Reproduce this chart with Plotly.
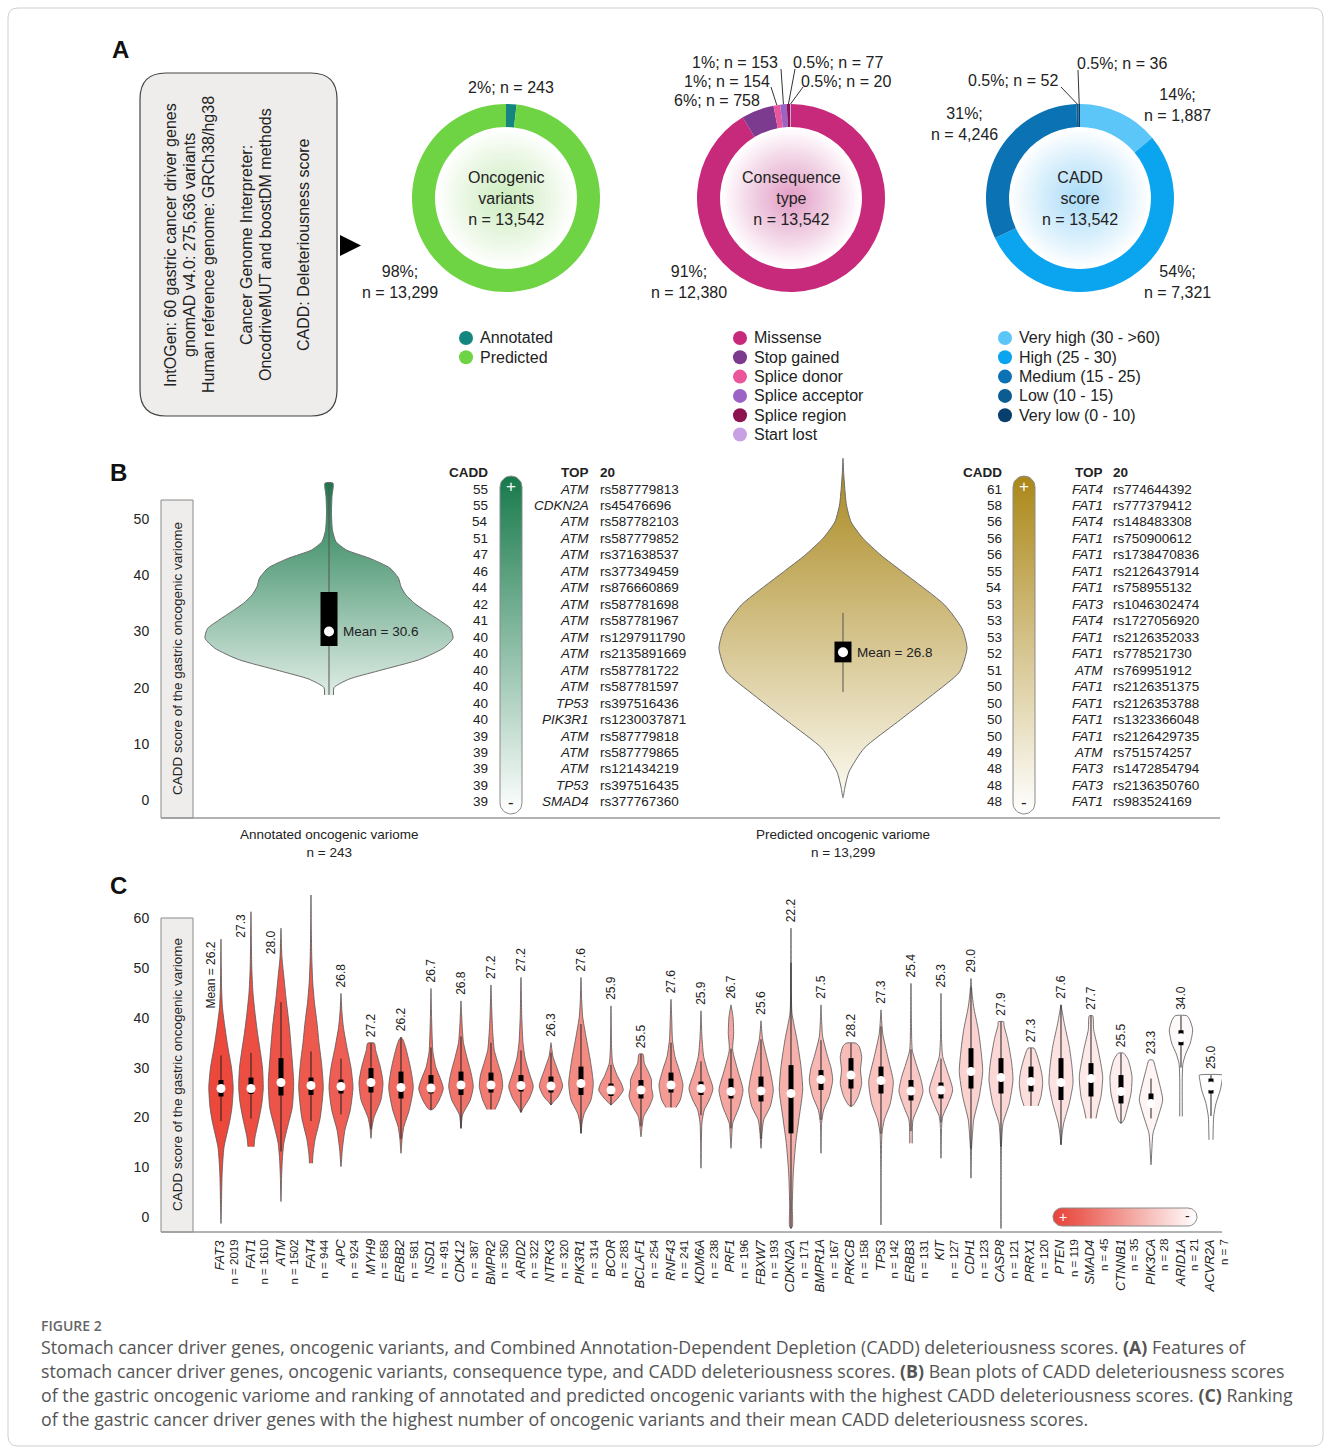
import numpy as np
import plotly.graph_objects as go

W, H = 1331, 1450
FONT = "Liberation Sans, Arial, Helvetica, sans-serif"
CAPFONT = "Open Sans, Liberation Sans, sans-serif"
TXT = "#222222"

# ---------------- Panel A data ----------------
onco_labels = ["Annotated", "Predicted"]
onco_values = [243, 13299]
onco_pct = ["2%", "98%"]
onco_colors = ["#14867f", "#6fd444"]

cons_labels = ["Missense", "Stop gained", "Splice donor", "Splice acceptor", "Splice region", "Start lost"]
cons_values = [12380, 758, 154, 153, 77, 20]
cons_pct = ["91%", "6%", "1%", "1%", "0.5%", "0.5%"]
cons_colors = ["#c72a7b", "#7d3b90", "#ea559b", "#9b63c5", "#8c1350", "#c7a1e3"]

cadd_labels = ["Very high (30 - >60)", "High (25 - 30)", "Medium (15 - 25)", "Low (10 - 15)", "Very low (0 - 10)"]
cadd_values = [1887, 7321, 4246, 52, 36]
cadd_pct = ["14%", "54%", "31%", "0.5%", "0.5%"]
cadd_colors = ["#5bc6f7", "#0ba5ef", "#0b72b4", "#0a5c92", "#083f6c"]

box_lines = ["IntOGen: 60 gastric cancer driver genes", "gnomAD v4.0: 275,636 variants",
             "Human reference genome: GRCh38/hg38", "Cancer Genome Interpreter:",
             "OncodriveMUT and boostDM methods", "CADD: Deleteriousness score"]

# ---------------- Panel B data ----------------
bean_groups = ["Annotated oncogenic variome", "Predicted oncogenic variome"]
bean_n = [243, 13299]
bean_mean = [30.6, 26.8]
bean_median = [30.0, 26.3]
bean_q1 = [27.4, 24.5]
bean_q3 = [37.0, 28.2]
bean_wlo = [18.7, 19.2]
bean_whi = [56.4, 33.3]
ann_bean_v = [18.7, 20.0, 21.5, 23.0, 25.0, 27.0, 28.8, 30.5, 32.0, 33.6, 35.0, 36.5, 38.0, 39.5,
              41.3, 43.0, 44.5, 46.0, 48.0, 51.0, 54.0, 56.4]
ann_bean_d = [0.037, 0.04, 0.16, 0.40, 0.73, 0.92, 1.0, 0.98, 0.89, 0.78, 0.69, 0.62, 0.58, 0.56,
              0.49, 0.33, 0.14, 0.056, 0.028, 0.02, 0.024, 0.032]
pred_bean_v = [0.4, 2.1, 5.0, 9.2, 13.9, 18.7, 22.8, 27.0, 30.5, 34.7, 40.6, 43.5, 46.6, 49.5,
               52.5, 55.5, 58.0, 60.8]
pred_bean_d = [0.0, 0.014, 0.048, 0.17, 0.44, 0.72, 0.94, 1.0, 0.96, 0.82, 0.48, 0.31, 0.16, 0.065,
               0.028, 0.014, 0.006, 0.0]

ann_top_cadd = [55, 55, 54, 51, 47, 46, 44, 42, 41, 40, 40, 40, 40, 40, 40, 39, 39, 39, 39, 39]
ann_top_gene = ["ATM", "CDKN2A", "ATM", "ATM", "ATM", "ATM", "ATM", "ATM", "ATM", "ATM", "ATM", "ATM",
                "ATM", "TP53", "PIK3R1", "ATM", "ATM", "ATM", "TP53", "SMAD4"]
ann_top_rs = ["rs587779813", "rs45476696", "rs587782103", "rs587779852", "rs371638537", "rs377349459",
              "rs876660869", "rs587781698", "rs587781967", "rs1297911790", "rs2135891669", "rs587781722",
              "rs587781597", "rs397516436", "rs1230037871", "rs587779818", "rs587779865", "rs121434219",
              "rs397516435", "rs377767360"]
pred_top_cadd = [61, 58, 56, 56, 56, 55, 54, 53, 53, 53, 52, 51, 50, 50, 50, 50, 49, 48, 48, 48]
pred_top_gene = ["FAT4", "FAT1", "FAT4", "FAT1", "FAT1", "FAT1", "FAT1", "FAT3", "FAT4", "FAT1", "FAT1",
                 "ATM", "FAT1", "FAT1", "FAT1", "FAT1", "ATM", "FAT3", "FAT3", "FAT1"]
pred_top_rs = ["rs774644392", "rs777379412", "rs148483308", "rs750900612", "rs1738470836", "rs2126437914",
               "rs758955132", "rs1046302474", "rs1727056920", "rs2126352033", "rs778521730", "rs769951912",
               "rs2126351375", "rs2126353788", "rs1323366048", "rs2126429735", "rs751574257", "rs1472854794",
               "rs2136350760", "rs983524169"]

# ---------------- Panel C data ----------------
c_genes = ["FAT3", "FAT1", "ATM", "FAT4", "APC", "MYH9", "ERBB2", "NSD1", "CDK12", "BMPR2", "ARID2",
           "NTRK3", "PIK3R1", "BCOR", "BCLAF1", "RNF43", "KDM6A", "PRF1", "FBXW7", "CDKN2A", "BMPR1A",
           "PRKCB", "TP53", "ERBB3", "KIT", "CDH1", "CASP8", "PRRX1", "PTEN", "SMAD4", "CTNNB1",
           "PIK3CA", "ARID1A", "ACVR2A"]
c_n = [2019, 1610, 1502, 944, 924, 858, 581, 491, 387, 350, 322, 320, 314, 283, 254, 241, 238, 196,
       193, 171, 167, 158, 142, 131, 127, 123, 121, 120, 119, 45, 35, 28, 21, 7]
c_mean = [26.2, 27.3, 28.0, 26.7, 26.8, 27.2, 26.2, 26.7, 26.8, 27.2, 27.2, 26.3, 27.6, 25.9, 25.5,
          27.6, 25.9, 26.7, 25.6, 22.2, 27.5, 28.2, 27.3, 25.4, 25.3, 29.0, 27.9, 27.3, 27.6, 27.7,
          25.5, 23.3, 34.0, 25.0]
c_q1 = [24.2, 24.7, 24.4, 24.5, 24.8, 25.0, 23.8, 24.8, 24.5, 25.0, 25.2, 25.0, 24.5, 24.3, 23.8,
        25.0, 24.5, 23.8, 23.2, 16.8, 25.5, 25.8, 24.8, 23.4, 23.8, 25.8, 24.8, 25.2, 23.5, 24.2,
        22.8, 22.8, 34.5, 24.8]
c_q3 = [27.5, 28.0, 31.9, 28.0, 27.6, 29.9, 29.2, 28.5, 29.2, 29.0, 28.5, 28.2, 30.2, 26.8, 27.5,
        29.0, 27.2, 27.8, 28.2, 30.5, 29.5, 31.9, 30.2, 27.5, 27.0, 33.9, 31.9, 30.2, 31.9, 30.9,
        28.5, 24.8, 37.5, 27.8]
c_median = [25.8, 25.8, 27.0, 26.4, 26.2, 27.0, 26.0, 25.9, 26.5, 26.5, 26.4, 26.3, 26.8, 25.5, 25.5,
            26.5, 25.8, 25.2, 25.3, 24.8, 27.6, 28.5, 27.4, 25.3, 25.5, 29.2, 28.0, 27.2, 27.0, 27.8,
            25.2, 22.8, 36.0, 26.3]
# violin outlines: CADD value knots and relative density at each knot
c_shape_v = [
    [-1.3, 3, 9, 14, 19, 22, 26, 30, 34, 38, 42, 46, 50, 55.8],
    [14.1, 16, 20, 23, 26, 30, 33, 37, 41, 45, 50, 55, 61.3],
    [3.1, 8, 12, 15, 18, 22, 27, 32, 38, 44, 48, 52, 58],
    [10.8, 12.5, 15.5, 20, 26, 31, 35, 39, 43, 47, 52, 58, 64.7],
    [10.1, 13.5, 17.5, 21.5, 26, 30, 34, 38, 41, 44.9],
    [15.8, 18, 20, 23.5, 27, 30, 33.5, 34.9],
    [12.8, 15.5, 18, 21.5, 26, 30, 34, 35.6, 36.1],
    [21.5, 21.8, 23.5, 25.8, 28, 30, 33, 36, 40, 45.9],
    [17.8, 20.5, 23.5, 26.2, 29, 32, 35, 38, 43.4],
    [21.6, 23.5, 26.2, 28.5, 30.2, 33.5, 38, 42, 46.6],
    [21, 21.8, 23.8, 26.2, 28.9, 32, 35, 40, 44, 48.1],
    [22.5, 23, 24.2, 26.3, 29.5, 32.2, 33.5, 35],
    [16.8, 18.8, 20.8, 23.5, 26.8, 31.5, 36.2, 40.2, 44, 48.1],
    [22.5, 22.8, 23.8, 25.5, 27, 28.2, 30.9, 34, 38, 42.4],
    [16.1, 18, 20.2, 22.2, 24.2, 26, 27.5, 29.2, 30.9, 32.7],
    [22, 23.5, 26.5, 29.5, 32.2, 35.6, 40, 43.7],
    [9.8, 15, 19, 21.5, 23.5, 25.8, 29.2, 32.2, 36, 41.4],
    [13.8, 16.5, 18.8, 22.2, 25.5, 29.5, 33.5, 36.9, 40.2, 42.6],
    [13.8, 16.8, 19.5, 22.2, 25.5, 28.5, 30.9, 35.6, 39.4],
    [-2.3, -1.8, 2, 8.8, 14.8, 20.2, 25.5, 30.2, 35.6, 40.9, 46, 58],
    [12.8, 18.8, 21.5, 24.2, 27.5, 30, 32.2, 36.2, 40, 42.6],
    [22.2, 22.5, 24.2, 26.8, 29.5, 32.2, 34.2, 34.9],
    [-1.6, 10, 16.8, 19.5, 22.8, 27.2, 32.2, 36.9, 41.6],
    [14.8, 19.5, 22.2, 25.2, 28, 30.2, 33.5, 38, 46.9],
    [11.8, 18, 20.2, 22.8, 25.5, 29.5, 32.2, 36, 44.9],
    [7.8, 14, 16.1, 19.5, 24.2, 29.2, 33.5, 37.6, 42.2, 45, 47.9],
    [-2.3, 10, 15, 18.8, 22.8, 27.5, 30.9, 35.6, 38.5, 39.2],
    [22.3, 24.2, 26.8, 28.5, 30.2, 32.9, 33.9],
    [14.5, 16.5, 18.8, 22.8, 26.8, 30.2, 34.2, 38.9, 42.6],
    [19.8, 21.5, 24.2, 28.2, 33.5, 37.6, 40.4],
    [18.8, 19.5, 21.5, 24.8, 28.2, 31.5, 32.9],
    [10.5, 14.1, 16.8, 20.2, 23.5, 25.5, 29.5, 31.5],
    [20.2, 28, 30.9, 32.9, 34.9, 37.6, 39.5, 40.4],
    [15.5, 20.2, 22.8, 25.5, 28.2, 28.5],
]
c_shape_d = [
    [0, 0.5, 1.2, 3, 8.5, 11, 12.2, 10.5, 7, 4, 1.5, 0.6, 0.3, 0],
    [3, 4, 8.3, 11, 12.3, 11.5, 9.5, 6.5, 4, 2, 0.8, 0.4, 0],
    [0, 0.6, 1.5, 3, 6.5, 11.3, 12.7, 11, 8.5, 5, 3, 1, 0],
    [1.5, 2, 4, 9.3, 12.3, 10.5, 8, 6, 3.5, 1.8, 0.8, 0.3, 0],
    [0, 1.3, 4, 9.3, 12, 10, 6, 2.5, 1, 0],
    [0, 1, 3, 10, 12, 9.5, 4.7, 3.3],
    [0, 1, 2.7, 8.3, 12.3, 9.5, 4.7, 2, 0],
    [0, 3, 8.3, 12.3, 9, 5, 2, 1.2, 0.6, 0],
    [0, 1.5, 9.3, 12.3, 10, 6, 2.5, 1.3, 0],
    [4, 8.3, 11.7, 10.5, 8, 3.3, 1.5, 0.7, 0],
    [0, 2, 8.3, 12.3, 8.3, 4, 2, 0.8, 0.4, 0],
    [0, 2, 7.3, 11.7, 6.7, 2, 1, 0],
    [0, 1, 3.3, 10, 12.3, 9.3, 5, 1.7, 0.6, 0],
    [0, 1.7, 6.7, 12.3, 10, 6.7, 1.7, 0.6, 0.3, 0],
    [0, 1, 2.7, 8.3, 12, 10.5, 10.5, 7.3, 3.3, 2],
    [5, 9.3, 12, 8.3, 4, 1.5, 0.7, 0],
    [0, 0.4, 1, 3.3, 8.3, 12, 6.7, 2.7, 1, 0],
    [0, 0.8, 1.7, 8.3, 12, 6.7, 1.7, 2.7, 2, 0],
    [0, 1, 2.7, 9.3, 12.3, 10, 7.3, 1.7, 0],
    [0, 1.5, 1.3, 2.3, 4.7, 8.3, 11.7, 10, 6, 1, 0.3, 0],
    [0, 0.6, 2.7, 8.3, 11.7, 10, 6.7, 1.7, 0.5, 0],
    [0, 2.5, 7.3, 10.7, 9.5, 10.7, 8.3, 5],
    [0, 0.2, 1, 3.3, 9.3, 12.3, 6.7, 1.7, 0],
    [1.3, 2, 7.3, 12, 9.5, 6, 1.3, 0.5, 0],
    [0, 0.6, 1.7, 7.3, 11.7, 6, 1.7, 0.5, 0],
    [0, 0.6, 1.3, 2.7, 8.3, 11.7, 10, 7.3, 2.7, 1, 0],
    [0, 0.2, 0.6, 2, 8.3, 12, 10.7, 6.7, 3, 2.7],
    [7, 10, 11.7, 11, 9.3, 5.3, 3],
    [0, 1, 2.7, 8.3, 12, 11, 8.3, 3.3, 0],
    [5, 6.7, 10, 11.7, 7.3, 2.7, 1.7],
    [0, 3, 6, 10, 11, 7.3, 2.7],
    [0, 1, 2, 7.3, 11.7, 10, 5, 2],
    [1.3, 1.3, 2, 5, 9.3, 11.7, 9, 6],
    [2, 2.7, 5, 9.3, 11.7, 11.7],
]

caption_lines = [
    "Stomach cancer driver genes, oncogenic variants, and Combined Annotation-Dependent Depletion (CADD) deleteriousness scores. <b>(A)</b> Features of",
    "stomach cancer driver genes, oncogenic variants, consequence type, and CADD deleteriousness scores. <b>(B)</b> Bean plots of CADD deleteriousness scores",
    "of the gastric oncogenic variome and ranking of annotated and predicted oncogenic variants with the highest CADD deleteriousness scores. <b>(C)</b> Ranking",
    "of the gastric cancer driver genes with the highest number of oncogenic variants and their mean CADD deleteriousness scores.",
]

# ---------------- helpers ----------------
def px(x):
    return x / W


def py(y):
    return 1 - y / H


fig = go.Figure()
shapes = []
annotations = []


def ann(text, x, y, size=16, color=TXT, xanchor="center", yanchor="middle", angle=0,
        xref="paper", yref="paper", family=FONT, **kw):
    d = dict(text=text, x=px(x) if xref == "paper" else x, y=py(y) if yref == "paper" else y,
             xref=xref, yref=yref, showarrow=False, textangle=angle,
             font=dict(size=size, color=color, family=family), xanchor=xanchor, yanchor=yanchor)
    d.update(kw)
    annotations.append(d)


def rr_path(x0, y0, x1, y1, r):
    return (f"M{x0+r},{y0} L{x1-r},{y0} Q{x1},{y0} {x1},{y0+r} L{x1},{y1-r} Q{x1},{y1} {x1-r},{y1} "
            f"L{x0+r},{y1} Q{x0},{y1} {x0},{y1-r} L{x0},{y0+r} Q{x0},{y0} {x0+r},{y0} Z")


def rr_points(x0, y0, x1, y1, r, n=12):
    pts = []
    for cx, cy, a0, a1 in [(x1 - r, y0 + r, -90, 0), (x1 - r, y1 - r, 0, 90),
                           (x0 + r, y1 - r, 90, 180), (x0 + r, y0 + r, 180, 270)]:
        for a in np.linspace(a0, a1, n):
            t = np.radians(a)
            pts.append((cx + r * np.cos(t), cy + r * np.sin(t)))
    pts.append(pts[0])
    xs, ys = zip(*pts)
    return list(xs), list(ys)


def mix(c, t):
    c = np.array(c, dtype=float)
    m = c + (255 - c) * t
    return "rgb(%d,%d,%d)" % tuple(np.round(m))


# ---------------- outer frame ----------------
shapes.append(dict(type="path", xref="x", yref="y", path=rr_path(8, 8, 1323, 1446, 10),
                   line=dict(color="#cfcfcf", width=1), fillcolor="rgba(0,0,0,0)", layer="below"))

# ---------------- Panel A ----------------
ann("<b>A</b>", 120, 50, size=24, color="#111")
shapes.append(dict(type="path", xref="x", yref="y", path=rr_path(140, 73, 337, 416, 26),
                   line=dict(color="#444", width=1.2), fillcolor="#eeedeb", layer="below"))
for txt, x in zip(box_lines, [170, 189, 208, 246, 265, 303]):
    ann(txt, x, 245, size=16, angle=-90)
shapes.append(dict(type="path", xref="x", yref="y", path="M340,235 L361,245.5 L340,256 Z",
                   fillcolor="#000", line=dict(width=0)))

PIE_R, PIE_CY = 94, 198
pies = [
    (onco_values, onco_labels, onco_colors, onco_pct, 506, (204, 236, 190), "Oncogenic<br>variants",
     [(511, 88, False, None), (400, 282, True, None)]),
    (cons_values, cons_labels, cons_colors, cons_pct, 791, (226, 158, 198), "Consequence<br>type",
     [(689, 282, True, None), (717, 101, False, None), (727, 81, False, (771, 87)),
      (735, 62, False, (781, 69)), (838, 62, False, (795, 69)), (846, 81, False, (803, 87))]),
    (cadd_values, cadd_labels, cadd_colors, cadd_pct, 1080, (170, 220, 248), "CADD<br>score",
     [(1177, 105, True, None), (1177, 282, True, None), (964, 124, True, None),
      (1013, 80, False, (1061, 87)), (1122, 64, False, (1078, 70))]),
]
legend_x = [466, 740, 1005]
for k, (vals, labs, cols, pcts, cx, ccol, title, lab_pos) in enumerate(pies):
    # centre radial tint
    for r in np.linspace(71, 2, 30):
        t = (r / 71.0) ** 1.1
        shapes.append(dict(type="circle", xref="x", yref="y", x0=cx - r, x1=cx + r,
                           y0=PIE_CY - r, y1=PIE_CY + r, fillcolor=mix(ccol, t),
                           line=dict(width=0), layer="below"))
    fig.add_trace(go.Pie(values=vals, labels=labs, marker=dict(colors=cols, line=dict(width=0)),
                         hole=0.755, sort=False, direction="clockwise", rotation=0,
                         textinfo="none", showlegend=False, hoverinfo="label+value",
                         domain=dict(x=[px(cx - PIE_R), px(cx + PIE_R)],
                                     y=[py(PIE_CY + PIE_R), py(PIE_CY - PIE_R)])))
    ann(f"{title}<br>n = {sum(vals):,}", cx, PIE_CY, size=16)
    tot = float(sum(vals))
    for i, (lx, ly, two, lead) in enumerate(lab_pos):
        sep = ";<br>" if two else "; "
        ann(f"{pcts[i]}{sep}n = {vals[i]:,}", lx, ly, size=16)
        if lead is not None:
            th = 2 * np.pi * (sum(vals[:i]) + vals[i] / 2.0) / tot
            ex, ey = cx + PIE_R * np.sin(th), PIE_CY - PIE_R * np.cos(th)
            shapes.append(dict(type="line", xref="x", yref="y", x0=lead[0], y0=lead[1], x1=ex, y1=ey,
                               line=dict(color="#333", width=1)))
    # legend
    lx = legend_x[k]
    ly = [338 + 19.3 * j for j in range(len(labs))]
    fig.add_trace(go.Scatter(x=[lx] * len(labs), y=ly, mode="markers", xaxis="x", yaxis="y",
                             marker=dict(size=14, color=cols), hoverinfo="skip", showlegend=False))
    for j, lab in enumerate(labs):
        ann(lab, lx + 12, ly[j], size=16, xanchor="left")

# ---------------- Panel B ----------------
ann("<b>B</b>", 118, 472, size=24, color="#111")
shapes.append(dict(type="rect", xref="x", yref="y", x0=161, x1=193, y0=500, y1=818,
                   fillcolor="#efedeb", line=dict(color="#8a8a8a", width=1), layer="below"))
ann("CADD score of the gastric oncogenic variome", 177, 659, size=13.5, angle=-90)
shapes.append(dict(type="line", xref="x", yref="y", x0=161, x1=1220, y0=818, y1=818,
                   line=dict(color="#9a9a9a", width=1.5)))

BEAN_HW = 124 / 514.0
bean_shapes = [(ann_bean_v, ann_bean_d, "#f3f8f5", "#1a7a4c", 15, 56.4),
               (pred_bean_v, pred_bean_d, "#fdfbf3", "#a8861b", 0, 60.8)]
for k, (vv, dd, c0, c1, g0, g1) in enumerate(bean_shapes):
    v = np.array(vv)
    d = np.array(dd) * BEAN_HW
    xs = list(k + d) + list(k - d[::-1])
    ys = list(v) + list(v[::-1])
    fig.add_trace(go.Scatter(x=xs, y=ys, xaxis="x2", yaxis="y2", mode="lines", fill="toself",
                             line=dict(color="#6b6b6b", width=1, shape="spline", smoothing=0.6),
                             fillgradient=dict(type="vertical", colorscale=[[0, c0], [1, c1]],
                                               start=g0, stop=g1),
                             hoverinfo="skip", showlegend=False))
    fig.add_trace(go.Scatter(x=[k, k], y=[bean_wlo[k], bean_whi[k]], xaxis="x2", yaxis="y2",
                             mode="lines", line=dict(color="#555", width=1), hoverinfo="skip",
                             showlegend=False))
    fig.add_trace(go.Scatter(x=[k, k], y=[bean_q1[k], bean_q3[k]], xaxis="x2", yaxis="y2",
                             mode="lines", line=dict(color="#000", width=17), hoverinfo="skip",
                             showlegend=False))
    fig.add_trace(go.Scatter(x=[k], y=[bean_median[k]], xaxis="x2", yaxis="y2", mode="markers",
                             marker=dict(color="white", size=10), hoverinfo="skip", showlegend=False))
    ann(f"Mean = {bean_mean[k]}", k, bean_median[k], size=13.5, xref="x2", yref="y2",
        xanchor="left", xshift=12)
    annotations.append(dict(text=f"{bean_groups[k]}<br>n = {bean_n[k]:,}", x=k, y=py(843),
                            xref="x2", yref="paper", showarrow=False,
                            font=dict(size=13.5, color=TXT, family=FONT)))

# top-20 tables
tables = [(ann_top_cadd, ann_top_gene, ann_top_rs, 489, 511, 590, 599, "#177a4b"),
          (pred_top_cadd, pred_top_gene, pred_top_rs, 1003, 1024, 1104, 1112, "#ab8718")]
for cadd, gene, rs, xnum, xbar, xgene, xrs, bcol in tables:
    ann("<b>CADD</b>", xnum + 1, 472, size=13.5, xanchor="right")
    ann("<b>TOP</b>", xgene + 1, 472, size=13.5, xanchor="right")
    ann("<b>20</b>", xrs - 1, 472, size=13.5, xanchor="left")
    for i in range(len(cadd)):
        yy = 489 + 16.47 * i
        ann(str(cadd[i]), xnum + 1, yy, size=13.5, xanchor="right")
        ann(f"<i>{gene[i]}</i>", xgene + 1, yy, size=13.5, xanchor="right")
        ann(rs[i], xrs - 1, yy, size=13.5, xanchor="left")
    bx, by = rr_points(xbar - 11, 476, xbar + 11, 814, 11)
    fig.add_trace(go.Scatter(x=bx, y=by, xaxis="x", yaxis="y", mode="lines", fill="toself",
                             line=dict(color="#8a8a8a", width=1),
                             fillgradient=dict(type="vertical", colorscale=[[0, bcol], [1, "#ffffff"]],
                                               start=476, stop=814),
                             hoverinfo="skip", showlegend=False))
    ann("+", xbar, 486, size=17, color="white")
    ann("-", xbar, 803, size=17, color="#222")

# ---------------- Panel C ----------------
ann("<b>C</b>", 118, 885, size=24, color="#111")
shapes.append(dict(type="rect", xref="x", yref="y", x0=161, x1=193, y0=918, y1=1232,
                   fillcolor="#efedeb", line=dict(color="#8a8a8a", width=1), layer="below"))
ann("CADD score of the gastric oncogenic variome", 177, 1075, size=13.5, angle=-90)
shapes.append(dict(type="line", xref="x", yref="y", x0=161, x1=1222, y0=1232, y1=1232,
                   line=dict(color="#9a9a9a", width=1.5)))

C_SCALE = 1 / 30.0
RED = (236, 72, 60)
NG = len(c_genes)
wx, wy, bxs, bys = [], [], [], []
for i, g in enumerate(c_genes):
    v = np.array(c_shape_v[i], dtype=float)
    d = np.array(c_shape_d[i], dtype=float) * C_SCALE
    xs = list(i + d) + list(i - d[::-1])
    ys = list(v) + list(v[::-1])
    fig.add_trace(go.Scatter(x=xs, y=ys, xaxis="x3", yaxis="y3", mode="lines", fill="toself",
                             fillcolor=mix(RED, i / (NG - 1.0)),
                             line=dict(color="#555", width=0.8, shape="spline", smoothing=0.6),
                             hoverinfo="skip", showlegend=False))
    vmin, vmax = v.min(), v.max()
    iqr = c_q3[i] - c_q1[i]
    lo, hi = max(vmin, c_q1[i] - 1.5 * iqr), min(vmax, c_q3[i] + 1.5 * iqr)
    wx += [i, i, None]
    wy += [lo, hi, None]
    bxs += [i, i, None]
    bys += [c_q1[i], c_q3[i], None]
    label = f"Mean = {c_mean[i]:.1f}" if i == 0 else f"{c_mean[i]:.1f}"
    if i < 4:
        annotations.append(dict(text=label, x=i, y=vmax, xref="x3", yref="y3", showarrow=False,
                                textangle=-90, xanchor="right", yanchor="top", xshift=-1,
                                font=dict(size=12, color=TXT, family=FONT)))
    else:
        annotations.append(dict(text=label, x=i, y=vmax, xref="x3", yref="y3", showarrow=False,
                                textangle=-90, xanchor="center", yanchor="bottom", yshift=4,
                                font=dict(size=12, color=TXT, family=FONT)))
    annotations.append(dict(text=f"<i>{g}</i>", x=i, y=py(1237), xref="x3", yref="paper",
                            showarrow=False, textangle=-90, xanchor="center", yanchor="top",
                            xshift=-1, font=dict(size=13, color=TXT, family=FONT)))
    annotations.append(dict(text=f"n = {c_n[i]}", x=i, y=py(1237), xref="x3", yref="paper",
                            showarrow=False, textangle=-90, xanchor="center", yanchor="top",
                            xshift=13, font=dict(size=11.5, color=TXT, family=FONT)))

fig.add_trace(go.Scatter(x=wx, y=wy, xaxis="x3", yaxis="y3", mode="lines",
                         line=dict(color="#222", width=1), hoverinfo="skip", showlegend=False))
fig.add_trace(go.Scatter(x=bxs, y=bys, xaxis="x3", yaxis="y3", mode="lines",
                         line=dict(color="#000", width=5), hoverinfo="skip", showlegend=False))
fig.add_trace(go.Scatter(x=list(range(NG)), y=c_median, xaxis="x3", yaxis="y3", mode="markers",
                         marker=dict(color="white", size=9), hoverinfo="skip", showlegend=False))

# C colour key
kx, ky = rr_points(1053, 1208, 1197, 1226, 9)
fig.add_trace(go.Scatter(x=kx, y=ky, xaxis="x", yaxis="y", mode="lines", fill="toself",
                         line=dict(color="#8a8a8a", width=1),
                         fillgradient=dict(type="horizontal",
                                           colorscale=[[0, "#e8433a"], [0.15, "#ea5a50"], [1, "#ffffff"]],
                                           start=1053, stop=1197),
                         hoverinfo="skip", showlegend=False))
ann("+", 1063, 1217, size=14, color="white")
ann("-", 1187, 1216, size=14, color="#222")

# ---------------- caption ----------------
ann("FIGURE 2", 40, 1325, size=14, color="#666", xanchor="left", family=CAPFONT,
    font=dict(size=14, color="#666", family=CAPFONT, weight=600), borderpad=0)
for j, line in enumerate(caption_lines):
    ann(line, 40, 1347 + 24 * j, size=17.8, color="#555", xanchor="left", family=CAPFONT,
        borderpad=0)

# ---------------- layout ----------------
tickfont = dict(size=14, color=TXT, family=FONT)
fig.update_layout(
    width=W, height=H, margin=dict(l=0, r=0, t=0, b=0),
    paper_bgcolor="white", plot_bgcolor="rgba(0,0,0,0)", showlegend=False,
    xaxis=dict(domain=[0, 1], range=[0, W], visible=False, fixedrange=True),
    yaxis=dict(domain=[0, 1], range=[H, 0], visible=False, fixedrange=True),
    xaxis2=dict(domain=[px(193), px(1220)], range=[-0.2646, 1.7335], visible=False, anchor="y2"),
    yaxis2=dict(domain=[py(818), py(455)], range=[-3.2, 61.4], anchor="free", position=px(161),
                tickvals=[0, 10, 20, 30, 40, 50], showgrid=False, zeroline=False, showline=False,
                ticks="outside", ticklen=9, tickcolor="rgba(0,0,0,0)", tickfont=tickfont),
    xaxis3=dict(domain=[px(193), px(1222)], range=[-0.933, 33.367], visible=False, anchor="y3"),
    yaxis3=dict(domain=[py(1232), py(895)], range=[-3.01, 64.66], anchor="free", position=px(161),
                tickvals=[0, 10, 20, 30, 40, 50, 60], showgrid=False, zeroline=False, showline=False,
                ticks="outside", ticklen=9, tickcolor="rgba(0,0,0,0)", tickfont=tickfont),
    shapes=shapes, annotations=annotations,
)
fig.write_html("out.html")
